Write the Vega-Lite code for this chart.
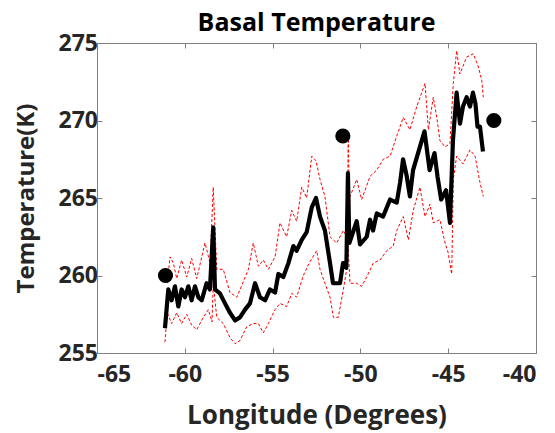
{
  "$schema": "https://vega.github.io/schema/vega-lite/v6.json",
  "width": 439,
  "height": 310,
  "autosize": {"type": "none"},
  "padding": {"left": 97, "top": 43, "right": 19, "bottom": 80},
  "background": "white",
  "title": {"text": "Basal Temperature", "font": "Open Sans", "fontSize": 25, "fontWeight": "bold", "color": "#000000", "offset": -4},
  "config": {
    "view": {"stroke": "#808080", "strokeWidth": 1},
    "axis": {
      "grid": false, "domainColor": "#808080", "tickColor": "#808080", "tickSize": -5,
      "labelFont": "Open Sans", "labelFontSize": 23, "labelFontWeight": "bold", "labelColor": "#262626",
      "titleFont": "Open Sans", "titleFontSize": 26, "titleFontWeight": "bold", "titleColor": "#262626"
    }
  },
  "datasets": {
    "mean": [
      {"lon": -61.13, "temp": 256.6}, {"lon": -60.94, "temp": 259.1}, {"lon": -60.75, "temp": 258.4}, {"lon": -60.56, "temp": 259.3},
      {"lon": -60.37, "temp": 258.0}, {"lon": -60.18, "temp": 259.1}, {"lon": -59.99, "temp": 258.6}, {"lon": -59.8, "temp": 259.3},
      {"lon": -59.61, "temp": 258.4}, {"lon": -59.42, "temp": 259.3}, {"lon": -59.23, "temp": 258.6}, {"lon": -59.04, "temp": 258.4},
      {"lon": -58.76, "temp": 259.5}, {"lon": -58.57, "temp": 259.1}, {"lon": -58.38, "temp": 263.1}, {"lon": -58.28, "temp": 259.1},
      {"lon": -58.0, "temp": 258.85}, {"lon": -57.71, "temp": 258.2}, {"lon": -57.43, "temp": 257.6}, {"lon": -57.14, "temp": 257.1},
      {"lon": -56.86, "temp": 257.3}, {"lon": -56.57, "temp": 257.8}, {"lon": -56.29, "temp": 258.2}, {"lon": -56.0, "temp": 259.5},
      {"lon": -55.72, "temp": 258.6}, {"lon": -55.43, "temp": 258.4}, {"lon": -55.15, "temp": 259.1}, {"lon": -54.86, "temp": 258.9},
      {"lon": -54.67, "temp": 260.1}, {"lon": -54.39, "temp": 259.9}, {"lon": -54.1, "temp": 260.8}, {"lon": -53.82, "temp": 261.9},
      {"lon": -53.63, "temp": 261.6}, {"lon": -53.34, "temp": 262.3}, {"lon": -53.06, "temp": 262.8}, {"lon": -52.77, "temp": 264.4},
      {"lon": -52.53, "temp": 265.0}, {"lon": -52.3, "temp": 263.8}, {"lon": -52.02, "temp": 262.9}, {"lon": -51.73, "temp": 260.8},
      {"lon": -51.56, "temp": 259.5}, {"lon": -51.16, "temp": 259.5}, {"lon": -50.99, "temp": 260.8}, {"lon": -50.8, "temp": 260.5},
      {"lon": -50.71, "temp": 266.6}, {"lon": -50.63, "temp": 262.1}, {"lon": -50.21, "temp": 263.5}, {"lon": -50.02, "temp": 262.0},
      {"lon": -49.64, "temp": 262.5}, {"lon": -49.45, "temp": 263.6}, {"lon": -49.28, "temp": 262.9}, {"lon": -49.07, "temp": 264.0},
      {"lon": -48.71, "temp": 263.8}, {"lon": -48.31, "temp": 264.9}, {"lon": -47.93, "temp": 264.7}, {"lon": -47.74, "temp": 266.0},
      {"lon": -47.57, "temp": 267.5}, {"lon": -47.36, "temp": 266.4}, {"lon": -47.18, "temp": 265.1}, {"lon": -47.0, "temp": 266.8},
      {"lon": -46.61, "temp": 268.3}, {"lon": -46.35, "temp": 269.3}, {"lon": -46.06, "temp": 266.8}, {"lon": -45.78, "temp": 267.9},
      {"lon": -45.61, "temp": 266.4}, {"lon": -45.4, "temp": 264.9}, {"lon": -45.12, "temp": 265.5}, {"lon": -44.9, "temp": 263.4},
      {"lon": -44.73, "temp": 268.7}, {"lon": -44.52, "temp": 271.8}, {"lon": -44.33, "temp": 269.8}, {"lon": -44.16, "temp": 270.9},
      {"lon": -43.95, "temp": 271.5}, {"lon": -43.76, "temp": 270.9}, {"lon": -43.59, "temp": 271.8}, {"lon": -43.45, "temp": 271.1},
      {"lon": -43.33, "temp": 269.6}, {"lon": -43.19, "temp": 269.6}, {"lon": -43.02, "temp": 268.0}
    ],
    "bounds": [
      {"s": "upper", "lon": -61.0, "temp": 259.5}, {"s": "upper", "lon": -60.84, "temp": 261.2}, {"s": "upper", "lon": -60.65, "temp": 260.8},
      {"s": "upper", "lon": -60.46, "temp": 259.8}, {"s": "upper", "lon": -60.18, "temp": 261.0}, {"s": "upper", "lon": -59.89, "temp": 259.9},
      {"s": "upper", "lon": -59.61, "temp": 261.1}, {"s": "upper", "lon": -59.32, "temp": 259.8}, {"s": "upper", "lon": -58.85, "temp": 262.1},
      {"s": "upper", "lon": -58.56, "temp": 260.8}, {"s": "upper", "lon": -58.38, "temp": 265.7}, {"s": "upper", "lon": -58.18, "temp": 260.4},
      {"s": "upper", "lon": -57.81, "temp": 260.4}, {"s": "upper", "lon": -57.43, "temp": 258.9}, {"s": "upper", "lon": -57.04, "temp": 258.6},
      {"s": "upper", "lon": -56.74, "temp": 259.4}, {"s": "upper", "lon": -56.38, "temp": 260.4}, {"s": "upper", "lon": -56.1, "temp": 262.1},
      {"s": "upper", "lon": -55.81, "temp": 260.6}, {"s": "upper", "lon": -55.53, "temp": 261.0}, {"s": "upper", "lon": -55.24, "temp": 260.4},
      {"s": "upper", "lon": -54.86, "temp": 261.2}, {"s": "upper", "lon": -54.58, "temp": 263.4}, {"s": "upper", "lon": -54.2, "temp": 262.5},
      {"s": "upper", "lon": -53.91, "temp": 264.2}, {"s": "upper", "lon": -53.63, "temp": 263.5}, {"s": "upper", "lon": -53.34, "temp": 265.7},
      {"s": "upper", "lon": -53.06, "temp": 265.0}, {"s": "upper", "lon": -52.77, "temp": 267.7}, {"s": "upper", "lon": -52.53, "temp": 267.4},
      {"s": "upper", "lon": -52.3, "temp": 266.2}, {"s": "upper", "lon": -52.02, "temp": 265.1}, {"s": "upper", "lon": -51.73, "temp": 262.5},
      {"s": "upper", "lon": -51.35, "temp": 262.1}, {"s": "upper", "lon": -50.97, "temp": 262.9}, {"s": "upper", "lon": -50.76, "temp": 262.5},
      {"s": "upper", "lon": -50.69, "temp": 269.0}, {"s": "upper", "lon": -50.62, "temp": 264.0}, {"s": "upper", "lon": -50.59, "temp": 265.1},
      {"s": "upper", "lon": -50.21, "temp": 266.2}, {"s": "upper", "lon": -49.93, "temp": 264.9}, {"s": "upper", "lon": -49.45, "temp": 266.4},
      {"s": "upper", "lon": -49.07, "temp": 266.8}, {"s": "upper", "lon": -48.7, "temp": 267.5}, {"s": "upper", "lon": -48.31, "temp": 267.7},
      {"s": "upper", "lon": -47.93, "temp": 269.0}, {"s": "upper", "lon": -47.56, "temp": 270.2}, {"s": "upper", "lon": -47.18, "temp": 269.4},
      {"s": "upper", "lon": -46.79, "temp": 270.9}, {"s": "upper", "lon": -46.32, "temp": 272.4}, {"s": "upper", "lon": -46.13, "temp": 269.4},
      {"s": "upper", "lon": -45.85, "temp": 271.5}, {"s": "upper", "lon": -45.65, "temp": 270.2}, {"s": "upper", "lon": -45.47, "temp": 268.7},
      {"s": "upper", "lon": -45.18, "temp": 268.3}, {"s": "upper", "lon": -44.9, "temp": 268.5}, {"s": "upper", "lon": -44.71, "temp": 272.4},
      {"s": "upper", "lon": -44.52, "temp": 274.5}, {"s": "upper", "lon": -44.33, "temp": 273.0}, {"s": "upper", "lon": -43.95, "temp": 274.1},
      {"s": "upper", "lon": -43.57, "temp": 274.3}, {"s": "upper", "lon": -43.29, "temp": 273.5}, {"s": "upper", "lon": -43.09, "temp": 272.6},
      {"s": "upper", "lon": -43.0, "temp": 271.5},
      {"s": "lower", "lon": -61.13, "temp": 255.7}, {"s": "lower", "lon": -61.0, "temp": 257.6}, {"s": "lower", "lon": -60.75, "temp": 256.9},
      {"s": "lower", "lon": -60.46, "temp": 257.6}, {"s": "lower", "lon": -60.18, "temp": 256.9}, {"s": "lower", "lon": -59.89, "temp": 257.5},
      {"s": "lower", "lon": -59.61, "temp": 256.8}, {"s": "lower", "lon": -59.32, "temp": 256.5}, {"s": "lower", "lon": -58.95, "temp": 257.3},
      {"s": "lower", "lon": -58.66, "temp": 257.8}, {"s": "lower", "lon": -58.45, "temp": 257.0}, {"s": "lower", "lon": -58.38, "temp": 259.5},
      {"s": "lower", "lon": -58.18, "temp": 257.3}, {"s": "lower", "lon": -57.81, "temp": 256.9}, {"s": "lower", "lon": -57.43, "temp": 256.0},
      {"s": "lower", "lon": -57.14, "temp": 255.6}, {"s": "lower", "lon": -56.86, "temp": 255.8}, {"s": "lower", "lon": -56.47, "temp": 256.7},
      {"s": "lower", "lon": -56.1, "temp": 256.9}, {"s": "lower", "lon": -55.81, "temp": 256.9}, {"s": "lower", "lon": -55.53, "temp": 256.3},
      {"s": "lower", "lon": -55.24, "temp": 256.9}, {"s": "lower", "lon": -54.86, "temp": 257.8}, {"s": "lower", "lon": -54.58, "temp": 258.2},
      {"s": "lower", "lon": -54.2, "temp": 258.0}, {"s": "lower", "lon": -53.91, "temp": 258.85}, {"s": "lower", "lon": -53.63, "temp": 258.6},
      {"s": "lower", "lon": -53.25, "temp": 260.0}, {"s": "lower", "lon": -52.87, "temp": 260.9}, {"s": "lower", "lon": -52.49, "temp": 261.6},
      {"s": "lower", "lon": -52.3, "temp": 260.4}, {"s": "lower", "lon": -52.02, "temp": 259.5}, {"s": "lower", "lon": -51.73, "temp": 258.6},
      {"s": "lower", "lon": -51.54, "temp": 257.3}, {"s": "lower", "lon": -51.26, "temp": 257.3}, {"s": "lower", "lon": -50.97, "temp": 259.1},
      {"s": "lower", "lon": -50.78, "temp": 260.4}, {"s": "lower", "lon": -50.71, "temp": 262.0}, {"s": "lower", "lon": -50.59, "temp": 259.5},
      {"s": "lower", "lon": -50.21, "temp": 259.5}, {"s": "lower", "lon": -49.93, "temp": 259.3}, {"s": "lower", "lon": -49.64, "temp": 259.9},
      {"s": "lower", "lon": -49.27, "temp": 260.8}, {"s": "lower", "lon": -48.88, "temp": 261.0}, {"s": "lower", "lon": -48.5, "temp": 261.6},
      {"s": "lower", "lon": -48.13, "temp": 261.9}, {"s": "lower", "lon": -47.93, "temp": 262.9}, {"s": "lower", "lon": -47.56, "temp": 263.8},
      {"s": "lower", "lon": -47.27, "temp": 262.3}, {"s": "lower", "lon": -46.99, "temp": 264.2}, {"s": "lower", "lon": -46.61, "temp": 265.7},
      {"s": "lower", "lon": -46.32, "temp": 263.8}, {"s": "lower", "lon": -46.04, "temp": 264.6}, {"s": "lower", "lon": -45.85, "temp": 263.4},
      {"s": "lower", "lon": -45.47, "temp": 263.6}, {"s": "lower", "lon": -45.18, "temp": 262.1}, {"s": "lower", "lon": -45.01, "temp": 261.5},
      {"s": "lower", "lon": -44.8, "temp": 260.1}, {"s": "lower", "lon": -44.71, "temp": 266.2}, {"s": "lower", "lon": -44.52, "temp": 267.7},
      {"s": "lower", "lon": -44.16, "temp": 267.2}, {"s": "lower", "lon": -43.76, "temp": 268.1}, {"s": "lower", "lon": -43.47, "temp": 267.7},
      {"s": "lower", "lon": -43.19, "temp": 266.0}, {"s": "lower", "lon": -43.0, "temp": 265.1}
    ],
    "pts": [
      {"lon": -61.1, "temp": 260}, {"lon": -51.0, "temp": 269}, {"lon": -42.4, "temp": 270}
    ]
  },
  "layer": [
    {
      "data": {"name": "bounds"},
      "mark": {"type": "line", "color": "#ff0000", "strokeWidth": 1, "strokeDash": [3, 2], "clip": true},
      "encoding": {
        "x": {"field": "lon", "type": "quantitative", "scale": {"domain": [-65, -40], "nice": false},
              "axis": {"orient": "top", "labels": false, "title": null, "values": [-65, -60, -55, -50, -45, -40]}},
        "y": {"field": "temp", "type": "quantitative", "scale": {"domain": [255, 275], "nice": false, "zero": false},
              "axis": {"orient": "right", "labels": false, "title": null, "values": [255, 260, 265, 270, 275]}},
        "detail": {"field": "s"}
      }
    },
    {
      "data": {"name": "mean"},
      "mark": {"type": "line", "color": "#000000", "strokeWidth": 4.2, "strokeJoin": "round"},
      "encoding": {
        "x": {"field": "lon", "type": "quantitative", "scale": {"domain": [-65, -40], "nice": false},
              "axis": {"orient": "bottom", "title": "Longitude (Degrees)", "values": [-65, -60, -55, -50, -45, -40], "labelExpr": "'' + datum.value", "labelPadding": 15, "titlePadding": 16}},
        "y": {"field": "temp", "type": "quantitative", "scale": {"domain": [255, 275], "nice": false, "zero": false},
              "axis": {"orient": "left", "title": "Temperature(K)", "titleFontSize": 24, "values": [255, 260, 265, 270, 275], "labelPadding": 4.5, "titlePadding": 20}}
      }
    },
    {
      "data": {"name": "pts"},
      "mark": {"type": "circle", "color": "#000000", "opacity": 1, "size": 230},
      "encoding": {
        "x": {"field": "lon", "type": "quantitative", "axis": null},
        "y": {"field": "temp", "type": "quantitative", "axis": null}
      }
    }
  ],
  "resolve": {"axis": {"x": "independent", "y": "independent"}}
}
